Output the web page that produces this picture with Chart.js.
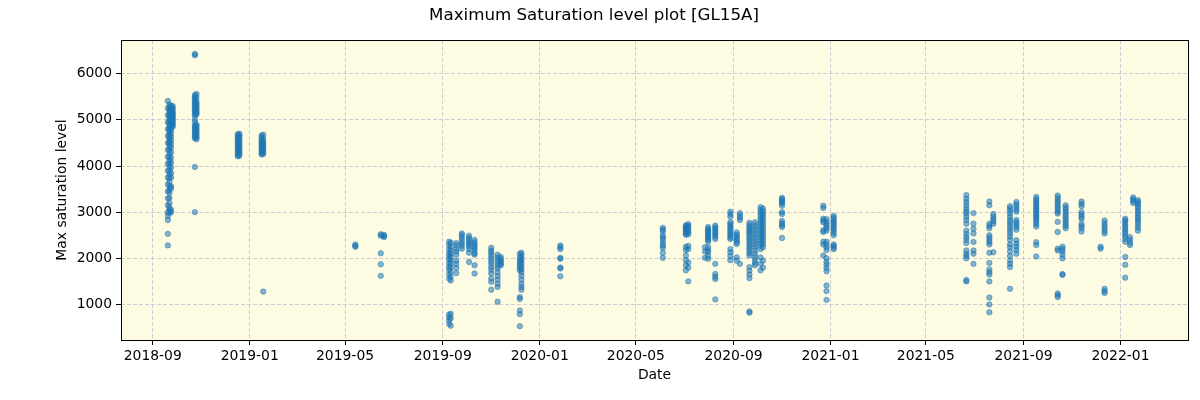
<!DOCTYPE html>
<html>
<head>
<meta charset="utf-8">
<script src="https://cdn.jsdelivr.net/npm/chart.js@4/dist/chart.umd.min.js"></script>
<style>
  html, body { margin: 0; padding: 0; background: #ffffff; }
  #wrap { width: 1200px; height: 400px; }
</style>
</head>
<body>
<div id="wrap"><canvas id="satChart" width="1200" height="400"></canvas></div>
<script>
const obsDates = [
  "2018-09-20", "2018-09-22", "2018-09-24", "2018-09-26",
  "2018-10-24", "2018-10-26",
  "2018-12-17", "2018-12-19", "2019-01-16", "2019-01-18",
  "2019-05-14", "2019-06-15", "2019-06-19",
  "2019-09-09", "2019-09-11", "2019-09-18", "2019-09-25", "2019-10-04",
  "2019-10-11", "2019-11-01", "2019-11-09", "2019-11-13", "2019-12-07",
  "2019-12-09", "2020-01-27",
  "2020-06-04", "2020-07-03", "2020-07-06", "2020-07-27", "2020-07-31",
  "2020-08-09", "2020-08-28", "2020-09-05", "2020-09-09", "2020-09-21",
  "2020-09-28", "2020-10-05", "2020-10-08", "2020-11-01",
  "2020-12-23", "2020-12-27", "2021-01-05",
  "2021-06-21", "2021-06-30", "2021-07-20", "2021-07-25", "2021-08-15",
  "2021-08-23", "2021-09-17", "2021-10-14", "2021-10-20", "2021-10-24",
  "2021-11-13", "2021-12-07", "2021-12-12",
  "2022-01-07", "2022-01-13", "2022-01-17", "2022-01-23"
];

const maxLevels = [
  [5410, 5250, 5100, 4950, 4800, 4650, 4500, 4350, 4200, 4050, 3900, 3750, 3600, 3450, 3300, 3150, 3000, 2920, 2830, 2530, 2280],
  [5330, 5280, 5230, 5180, 5130, 5080, 5030, 4980, 4930, 4880, 4830, 4780, 4730, 4680, 4630, 4580, 4530, 4480, 4420, 4350, 4280, 4200, 4130, 4060, 3980, 3900, 3820, 3740, 3660, 3560, 3480, 3420, 3310, 3200, 3100, 3050, 2980],
  [5300, 5220, 5150, 5080, 5010, 4940, 4870, 4800, 4720, 4640, 4560, 4480, 4400, 4300, 4180, 4080, 3970, 3850, 3750, 3560, 3520, 3050, 3000],
  [5300, 5260, 5220, 5180, 5150, 5120, 5090, 5060, 5030, 5000, 4970, 4940, 4910, 4880, 4850],
  [6400, 6430, 5540, 5500, 5460, 5420, 5380, 5340, 5300, 5260, 5220, 5180, 5140, 5100, 5020, 4960, 4880, 4840, 4800, 4760, 4720, 4680, 4640, 4600, 3980, 3000],
  [5560, 5480, 5400, 5350, 5310, 5270, 5230, 5190, 5150, 5120, 4900, 4860, 4820, 4780, 4740, 4700, 4660, 4620, 4580],
  [4690, 4650, 4610, 4570, 4530, 4490, 4450, 4410, 4370, 4330, 4290, 4250, 4210],
  [4700, 4660, 4620, 4580, 4540, 4500, 4460, 4420, 4380, 4340, 4300, 4260, 4220],
  [4660, 4620, 4560, 4520, 4480, 4440, 4400, 4360, 4320, 4280, 4250],
  [4680, 4600, 4540, 4500, 4460, 4420, 4380, 4340, 4300, 4260, 1280],
  [2300, 2270, 2250],
  [2520, 2490, 2110, 1870, 1620],
  [2510, 2480, 2460],
  [2360, 2290, 2200, 2120, 2050, 1980, 1900, 1820, 1750, 1650, 1560, 780, 720, 660, 580],
  [2340, 2250, 2170, 2100, 2030, 1960, 1880, 1800, 1700, 1600, 1520, 800, 700, 540],
  [2330, 2280, 2200, 2150, 2080, 1950, 1880, 1790, 1680],
  [2540, 2500, 2440, 2380, 2320, 2270, 2210],
  [2490, 2440, 2400, 2350, 2300, 2260, 2200, 2120, 1920],
  [2400, 2350, 2300, 2260, 2220, 2170, 2110, 2080, 1850, 1670],
  [2230, 2170, 2120, 2060, 2000, 1940, 1880, 1810, 1750, 1670, 1560, 1490, 1320],
  [2080, 2020, 1960, 1900, 1840, 1780, 1700, 1620, 1540, 1450, 1380, 1060],
  [2030, 1990, 1950, 1910, 1880, 1850],
  [2100, 2020, 1960, 1900, 1850, 1800, 1740, 1160, 1120, 870, 790, 530],
  [2120, 2060, 2000, 1940, 1880, 1820, 1760, 1700, 1620, 1540, 1450, 1380, 1320],
  [2280, 2240, 2200, 2010, 1990, 1800, 1780, 1610],
  [2660, 2620, 2580, 2490, 2450, 2400, 2330, 2280, 2230, 2120, 2010],
  [2720, 2690, 2660, 2630, 2600, 2570, 2540, 2510, 2250, 2180, 2060, 1960, 1850, 1740],
  [2740, 2700, 2650, 2610, 2560, 2520, 2270, 2200, 1910, 1800, 1500],
  [2240, 2150, 2010],
  [2680, 2640, 2610, 2580, 2550, 2520, 2490, 2460, 2430, 2400, 2360, 2240, 2180, 2130, 2050, 1990],
  [2710, 2670, 2630, 2590, 2550, 2510, 2470, 2420, 1880, 1660, 1600, 1550, 1110],
  [3010, 2960, 2900, 2780, 2740, 2700, 2660, 2620, 2580, 2540, 2500, 2450, 2420, 2200, 2130, 2050, 1960],
  [2560, 2510, 2470, 2430, 2390, 2350, 2310, 2020, 1950],
  [2980, 2930, 2880, 2830, 1880],
  [2770, 2720, 2680, 2640, 2600, 2560, 2520, 2470, 2420, 2370, 2320, 2270, 2220, 2170, 2110, 2060, 1810, 1730, 1650, 1570, 850, 820],
  [2780, 2720, 2660, 2600, 2540, 2480, 2420, 2360, 2300, 2240, 2170, 2100, 2030, 1960, 1900, 1850],
  [3110, 3050, 2990, 2930, 2870, 2810, 2750, 2690, 2630, 2570, 2510, 2450, 2390, 2330, 2270, 2200, 2020, 1880, 1740],
  [3080, 3020, 2960, 2900, 2840, 2780, 2720, 2660, 2600, 2540, 2480, 2420, 2360, 2300, 2240, 1950, 1800],
  [3310, 3280, 3250, 3220, 3190, 3140, 3000, 2960, 2810, 2760, 2720, 2680, 2440],
  [3140, 3090, 2860, 2820, 2780, 2610, 2570, 2360, 2300, 2060],
  [2850, 2790, 2740, 2700, 2650, 2600, 2360, 2300, 2240, 2180, 2000, 1920, 1860, 1790, 1720, 1410, 1290, 1100],
  [2920, 2880, 2840, 2800, 2760, 2720, 2680, 2640, 2600, 2550, 2500, 2300, 2270, 2230, 2200],
  [3370, 3290, 3220, 3150, 3080, 3020, 2970, 2900, 2830, 2750, 2600, 2530, 2460, 2400, 2330, 2170, 2100, 2050, 2000, 1530, 1500],
  [2980, 2750, 2640, 2540, 2355, 2170, 2100, 1880],
  [3230, 3150, 2750, 2700, 2650, 2500, 2450, 2400, 2350, 2300, 2120, 1900, 1760, 1700, 1650, 1500, 1150, 1000, 830],
  [2960, 2900, 2850, 2800, 2750, 2130],
  [3130, 3080, 3030, 2970, 2900, 2830, 2780, 2720, 2660, 2600, 2540, 2470, 2400, 2300, 2240, 2150, 2050, 1950, 1880, 1810, 1340],
  [3220, 3170, 3120, 3060, 3010, 2830, 2780, 2730, 2680, 2620, 2390, 2320, 2250, 2180, 2100],
  [3330, 3280, 3240, 3200, 3160, 3120, 3080, 3040, 3000, 2960, 2920, 2880, 2840, 2790, 2740, 2690, 2350, 2290, 2040],
  [3360, 3310, 3260, 3210, 3160, 3110, 3060, 3010, 2970, 2790, 2570, 2210, 2170, 1240, 1200, 1160],
  [2250, 2200, 2150, 2080, 2000, 1660, 1640],
  [3150, 3100, 3050, 3000, 2950, 2900, 2850, 2800, 2750, 2700, 2650],
  [3230, 3180, 3130, 3000, 2950, 2900, 2860, 2750, 2700, 2650, 2580],
  [2250, 2210],
  [2820, 2760, 2700, 2650, 2590, 2540, 1340, 1290, 1250],
  [2860, 2820, 2780, 2730, 2680, 2630, 2580, 2530, 2480, 2420, 2360, 2030, 1860, 1580],
  [2460, 2400, 2340, 2290],
  [3320, 3280, 3240, 3200],
  [3260, 3220, 3180, 3130, 3080, 3030, 2980, 2930, 2880, 2830, 2780, 2720, 2660, 2600]
];

const xTickLabels = ["2018-09", "2019-01", "2019-05", "2019-09", "2020-01",
  "2020-05", "2020-09", "2021-01", "2021-05", "2021-09", "2022-01"];
const yTicks = [1000, 2000, 3000, 4000, 5000, 6000];

const toDay = (s) => Date.parse(s) / 86400000;

const points = [];
obsDates.forEach((d, i) => {
  maxLevels[i].forEach(v => points.push({ x: toDay(d), y: v }));
});

Chart.defaults.font.family = "'DejaVu Sans', sans-serif";
Chart.defaults.font.size = 13.9;
Chart.defaults.color = "#000000";

const gridColor = "rgba(176,176,204,0.6)";

const plotBackground = {
  id: "plotBackground",
  beforeDraw(chart) {
    const { ctx, chartArea: a } = chart;
    ctx.save();
    ctx.fillStyle = "#ffffff";
    ctx.fillRect(0, 0, chart.width, chart.height);
    ctx.fillStyle = "#fdfbe2";
    ctx.fillRect(a.left, a.top, a.right - a.left, a.bottom - a.top);
    ctx.restore();
  },
  afterDraw(chart) {
    const { ctx, chartArea: a } = chart;
    ctx.save();
    ctx.strokeStyle = "#000000";
    ctx.lineWidth = 1;
    ctx.strokeRect(Math.round(a.left) + 0.5, Math.round(a.top) + 0.5,
      Math.round(a.right - a.left), Math.round(a.bottom - a.top));
    ctx.restore();
  }
};

new Chart(document.getElementById("satChart").getContext("2d"), {
  type: "scatter",
  data: {
    datasets: [{
      label: "Max saturation level",
      data: points,
      pointRadius: 2.7,
      pointBackgroundColor: "rgba(31,119,180,0.55)",
      pointBorderColor: "rgba(31,119,180,0.65)",
      pointBorderWidth: 0.8
    }]
  },
  options: {
    responsive: false,
    animation: false,
    layout: { padding: { left: 0, right: 12, top: 0, bottom: 0 } },
    plugins: {
      legend: { display: false },
      tooltip: { enabled: false },
      title: {
        display: true,
        text: "Maximum Saturation level plot [GL15A]",
        color: "#000000",
        font: { size: 16.7, weight: "normal" },
        padding: { top: 6, bottom: 14 }
      }
    },
    scales: {
      x: {
        type: "linear",
        min: toDay("2018-07-23"),
        max: toDay("2022-03-27"),
        afterBuildTicks(scale) {
          scale.ticks = xTickLabels.map(l => ({ value: toDay(l + "-01") }));
        },
        afterFit(scale) { scale.height = 60; },
        ticks: {
          autoSkip: false,
          maxRotation: 0,
          padding: 3,
          color: "#000000",
          callback: (v, i) => xTickLabels[i]
        },
        grid: { color: gridColor, tickColor: "#000000", tickLength: 5, lineWidth: 1 },
        border: { display: false, dash: [4, 2] },
        title: { display: true, text: "Date", color: "#000000", padding: { top: 0, bottom: 16.7 } }
      },
      y: {
        type: "linear",
        min: 230,
        max: 6730,
        afterBuildTicks(scale) {
          scale.ticks = yTicks.map(v => ({ value: v }));
        },
        afterFit(scale) { scale.width = 121; },
        ticks: { padding: 4, color: "#000000", callback: (v) => String(v) },
        grid: { color: gridColor, tickColor: "#000000", tickLength: 5, lineWidth: 1 },
        border: { display: false, dash: [4, 2] },
        title: { display: true, text: "Max saturation level", color: "#000000", padding: { top: 53.7, bottom: 0 } }
      }
    }
  },
  plugins: [plotBackground]
});
</script>
</body>
</html>
